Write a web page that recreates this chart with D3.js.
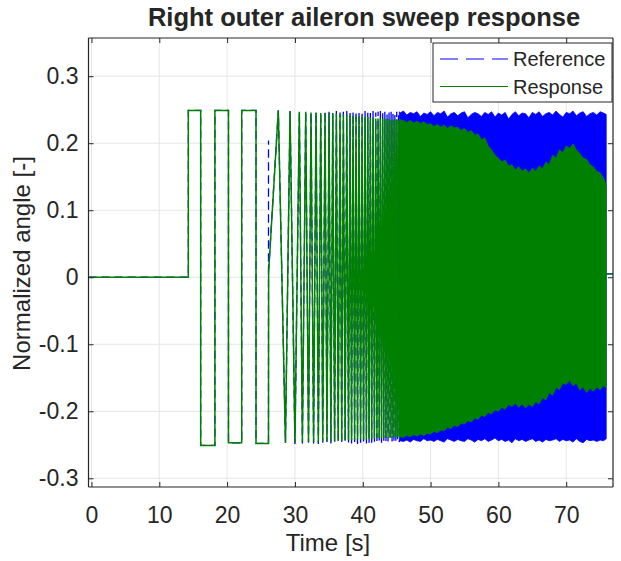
<!DOCTYPE html>
<html>
<head>
<meta charset="utf-8">
<script src="https://cdn.jsdelivr.net/npm/d3@7"></script>
<style>
  body { margin: 0; background: #fff; }
  text { font-family: "Liberation Sans", Arial, Helvetica, sans-serif; fill: #262626; }
</style>
</head>
<body>
<script>
// ticks
var xTicks = [0, 10, 20, 30, 40, 50, 60, 70];
var yTicks = [-0.3, -0.2, -0.1, 0, 0.1, 0.2, 0.3];

// square-wave part of the sweep: switching times [s] and level after each switch
var squareEdges  = [14.28, 16.1, 18.2, 20.2, 22.15, 24.26, 26.1];
var squareLevels = [0.249, -0.251, 0.249, -0.247, 0.249, -0.248];

// start of the sine part (reference spike, response ramp)
var refOnsetT  = [26.1, 26.1, 26.13];
var refOnsetV  = [0.204, 0.022, 0.012];
var respOnsetT = [26.12, 26.14];
var respOnsetV = [0.01, 0.01];

// sine sweep extrema (max, min, max, ...)
var sweepT = [27.55, 28.6, 29.28, 30.0, 30.65, 31.1, 31.59, 32.0, 32.37, 32.75,
              33.11, 33.45, 33.81, 34.1, 34.44, 34.72, 35.03, 35.3, 35.58, 35.85,
              36.11, 36.38, 36.65, 36.9, 37.14, 37.4, 37.64, 37.9, 38.13, 38.35,
              38.57, 38.8, 39.01, 39.23, 39.45, 39.68, 39.9, 40.12, 40.34, 40.54,
              40.74, 40.93, 41.12, 41.32, 41.52, 41.72, 41.92, 42.09, 42.26, 42.43,
              42.6, 42.77, 42.94, 43.1, 43.26, 43.42, 43.58, 43.73, 43.88, 44.03,
              44.18, 44.32, 44.46, 44.6, 44.74, 44.88, 45.01, 45.14, 45.27, 45.4];
var sweepRef = [0.249, -0.247, 0.248, -0.249, 0.247, -0.248, 0.248, -0.247, 0.246, -0.248,
                0.247, -0.249, 0.246, -0.247, 0.248, -0.246, 0.247, -0.248, 0.245, -0.247,
                0.248, -0.246, 0.246, -0.249, 0.247, -0.245, 0.248, -0.247, 0.245, -0.248,
                0.247, -0.246, 0.248, -0.249, 0.246, -0.247, 0.247, -0.245, 0.248, -0.248,
                0.246, -0.247, 0.245, -0.249, 0.248, -0.246, 0.246, -0.248, 0.247, -0.245,
                0.248, -0.247, 0.245, -0.244, 0.247, -0.246, 0.243, -0.245, 0.246, -0.243,
                0.247, -0.245, 0.244, -0.246, 0.242, -0.244, 0.247, -0.243, 0.245, -0.246];
var sweepResp = [0.249, -0.247, 0.248, -0.247, 0.247, -0.246, 0.247, -0.246, 0.246, -0.246,
                 0.246, -0.246, 0.245, -0.245, 0.245, -0.245, 0.245, -0.245, 0.244, -0.245,
                 0.244, -0.244, 0.243, -0.244, 0.243, -0.244, 0.242, -0.243, 0.242, -0.243,
                 0.241, -0.243, 0.241, -0.242, 0.240, -0.242, 0.240, -0.242, 0.239, -0.242,
                 0.239, -0.241, 0.238, -0.241, 0.238, -0.241, 0.237, -0.240, 0.237, -0.240,
                 0.237, -0.240, 0.237, -0.240, 0.236, -0.240, 0.236, -0.239, 0.236, -0.239,
                 0.235, -0.239, 0.235, -0.239, 0.235, -0.238, 0.235, -0.238, 0.234, -0.238];

// high-frequency part: envelopes of the dense band
var bandT = [45.4, 45.5, 46, 46.5, 47, 47.5, 48, 48.5, 49, 49.5,
             50, 50.5, 51, 51.5, 52, 52.5, 53, 53.5, 54, 54.5,
             55, 55.5, 56, 56.5, 57, 57.5, 58, 58.5, 59, 59.5,
             60, 60.5, 61, 61.5, 62, 62.5, 63, 63.5, 64, 64.5,
             65, 65.5, 66, 66.5, 67, 67.5, 68, 68.5, 69, 69.5,
             70, 70.5, 71, 71.5, 72, 72.5, 73, 73.5, 74, 74.5,
             75, 75.5, 75.9];
var refTop = [0.247, 0.245, 0.248, 0.242, 0.246, 0.244, 0.247, 0.240, 0.245, 0.243,
              0.247, 0.241, 0.246, 0.244, 0.248, 0.239, 0.244, 0.246, 0.241, 0.245,
              0.247, 0.238, 0.243, 0.246, 0.244, 0.240, 0.246, 0.243, 0.247, 0.239,
              0.245, 0.242, 0.246, 0.236, 0.243, 0.247, 0.241, 0.245, 0.244, 0.238,
              0.246, 0.243, 0.247, 0.240, 0.244, 0.246, 0.242, 0.248, 0.243, 0.239,
              0.246, 0.244, 0.248, 0.241, 0.245, 0.247, 0.240, 0.244, 0.246, 0.242,
              0.247, 0.245, 0.243];
var refBottom = [-0.246, -0.244, -0.245, -0.243, -0.246, -0.242, -0.244, -0.245, -0.241, -0.244,
                 -0.243, -0.245, -0.242, -0.244, -0.246, -0.241, -0.243, -0.245, -0.242, -0.244,
                 -0.245, -0.241, -0.243, -0.246, -0.242, -0.244, -0.241, -0.245, -0.243, -0.240,
                 -0.244, -0.242, -0.245, -0.243, -0.247, -0.241, -0.244, -0.242, -0.245, -0.243,
                 -0.241, -0.245, -0.243, -0.246, -0.242, -0.244, -0.243, -0.241, -0.245, -0.242,
                 -0.244, -0.243, -0.246, -0.241, -0.245, -0.247, -0.242, -0.244, -0.243, -0.245,
                 -0.243, -0.244, -0.241];
var respTop = [0.236, 0.235, 0.234, 0.231, 0.234, 0.230, 0.233, 0.229, 0.232, 0.228,
               0.229, 0.225, 0.228, 0.224, 0.227, 0.222, 0.226, 0.223, 0.224, 0.219,
               0.222, 0.216, 0.219, 0.212, 0.214, 0.205, 0.208, 0.196, 0.190, 0.182,
               0.178, 0.172, 0.175, 0.166, 0.168, 0.160, 0.165, 0.158, 0.162, 0.155,
               0.163, 0.158, 0.166, 0.162, 0.172, 0.168, 0.182, 0.178, 0.190, 0.186,
               0.196, 0.192, 0.199, 0.190, 0.185, 0.178, 0.176, 0.168, 0.165, 0.158,
               0.156, 0.148, 0.138];
var respBottom = [-0.240, -0.238, -0.239, -0.236, -0.238, -0.235, -0.237, -0.234, -0.236, -0.233,
                  -0.234, -0.230, -0.232, -0.228, -0.229, -0.224, -0.226, -0.221, -0.223, -0.218,
                  -0.219, -0.214, -0.216, -0.210, -0.212, -0.206, -0.208, -0.202, -0.204, -0.198,
                  -0.200, -0.194, -0.197, -0.190, -0.193, -0.188, -0.194, -0.189, -0.195, -0.190,
                  -0.193, -0.186, -0.189, -0.180, -0.183, -0.172, -0.176, -0.164, -0.168, -0.158,
                  -0.160, -0.154, -0.162, -0.158, -0.168, -0.164, -0.172, -0.166, -0.170, -0.164,
                  -0.168, -0.162, -0.165];

// after the sweep
var tailT = [75.92, 76.9];
var tailV = [0.005, 0.005];

var vis = {
  width: 621,
  height: 561,
  left: 88.5,
  right: 613,
  top: 38,
  bottom: 487,
  blue: "#0000ff",
  green: "#008000",
  axis: "#262626",
  grid: "#e6e6e6"
};

var x = d3.scaleLinear().domain([-0.44, 76.9]).range([vis.left, vis.right]);
var y = d3.scaleLinear().domain([-0.313, 0.357]).range([vis.bottom, vis.top]);

var svg = d3.select("body").append("svg")
  .attr("width", vis.width)
  .attr("height", vis.height);

svg.append("rect").attr("width", vis.width).attr("height", vis.height).attr("fill", "#fff");

// grid
svg.append("g").selectAll("line").data(xTicks).enter().append("line")
  .attr("x1", function(d) { return x(d); }).attr("x2", function(d) { return x(d); })
  .attr("y1", vis.top).attr("y2", vis.bottom)
  .attr("stroke", vis.grid).attr("stroke-width", 1);
svg.append("g").selectAll("line").data(yTicks).enter().append("line")
  .attr("y1", function(d) { return y(d); }).attr("y2", function(d) { return y(d); })
  .attr("x1", vis.left).attr("x2", vis.right)
  .attr("stroke", vis.grid).attr("stroke-width", 1);

// build the two time series as [t, v] points
function squarePart(startLevel) {
  var pts = [[x.domain()[0], 0]];
  var level = startLevel;
  squareEdges.forEach(function(t, i) {
    pts.push([t, level]);
    if (i < squareLevels.length) {
      level = squareLevels[i];
      pts.push([t, level]);
    }
  });
  return pts;
}

var refPts = squarePart(0);
refOnsetT.forEach(function(t, i) { refPts.push([t, refOnsetV[i]]); });
sweepT.forEach(function(t, i) { refPts.push([t, sweepRef[i]]); });

var respPts = squarePart(0);
respOnsetT.forEach(function(t, i) { respPts.push([t, respOnsetV[i]]); });
sweepT.forEach(function(t, i) { respPts.push([t, sweepResp[i]]); });

var tailPts = tailT.map(function(t, i) { return [t, tailV[i]]; });

var line = d3.line()
  .x(function(d) { return x(d[0]); })
  .y(function(d) { return y(d[1]); });

var band = d3.area()
  .x(function(d) { return x(d.t); })
  .y0(function(d) { return y(d.lo); })
  .y1(function(d) { return y(d.hi); });

var refBand = bandT.map(function(t, i) { return { t: t, lo: refBottom[i], hi: refTop[i] }; });
var respBand = bandT.map(function(t, i) { return { t: t, lo: respBottom[i], hi: respTop[i] }; });

var plot = svg.append("g");

// reference (blue, dashed)
plot.append("path").datum(refPts)
  .attr("d", line).attr("fill", "none")
  .attr("stroke", vis.blue).attr("stroke-width", 1.3)
  .attr("stroke-dasharray", "8,5");
plot.append("path").datum(refBand)
  .attr("d", band).attr("fill", vis.blue)
  .attr("stroke", vis.blue).attr("stroke-width", 0.8);
plot.append("path").datum(tailPts)
  .attr("d", line).attr("fill", "none")
  .attr("stroke", vis.blue).attr("stroke-width", 1.3);

// response (green)
plot.append("path").datum(respPts)
  .attr("d", line).attr("fill", "none")
  .attr("stroke", vis.green).attr("stroke-width", 1.5)
  .attr("stroke-linejoin", "miter").attr("stroke-miterlimit", 2);
plot.append("path").datum(respBand)
  .attr("d", band).attr("fill", vis.green)
  .attr("stroke", vis.green).attr("stroke-width", 0.8);
plot.append("path").datum(tailPts)
  .attr("d", line).attr("fill", "none")
  .attr("stroke", vis.green).attr("stroke-width", 1.1);

// axes with inward ticks on all four sides
function yFmt(d) {
  return d === 0 ? "0" : d3.format(".1f")(d).replace("\u2212", "-");
}
var axB = svg.append("g").attr("transform", "translate(0," + vis.bottom + ")")
  .call(d3.axisBottom(x).tickValues(xTicks).tickSize(-5).tickPadding(20).tickFormat(d3.format("d")));
var axT = svg.append("g").attr("transform", "translate(0," + vis.top + ")")
  .call(d3.axisTop(x).tickValues(xTicks).tickSize(-5).tickFormat(""));
var axL = svg.append("g").attr("transform", "translate(" + vis.left + ",0)")
  .call(d3.axisLeft(y).tickValues(yTicks).tickSize(-5).tickPadding(10).tickFormat(yFmt));
var axR = svg.append("g").attr("transform", "translate(" + vis.right + ",0)")
  .call(d3.axisRight(y).tickValues(yTicks).tickSize(-5).tickFormat(""));

[axB, axT, axL, axR].forEach(function(a) {
  a.selectAll("path.domain").attr("stroke", vis.axis).attr("stroke-width", 1.2);
  a.selectAll(".tick line").attr("stroke", vis.axis).attr("stroke-width", 1);
  a.selectAll(".tick text")
    .attr("font-family", "'Liberation Sans', Arial, sans-serif")
    .attr("font-size", 23).attr("fill", vis.axis);
});
axB.select(".domain").attr("d", "M" + vis.left + ",0H" + vis.right);
axT.select(".domain").attr("d", "M" + vis.left + ",0H" + vis.right);
axL.select(".domain").attr("d", "M0," + vis.top + "V" + vis.bottom);
axR.select(".domain").attr("d", "M0," + vis.top + "V" + vis.bottom);

// labels
svg.append("text")
  .attr("x", 364).attr("y", 26)
  .attr("text-anchor", "middle").attr("font-size", 25.5).attr("font-weight", "bold")
  .attr("fill", "#000")
  .text("Right outer aileron sweep response");

svg.append("text")
  .attr("x", 328).attr("y", 551)
  .attr("text-anchor", "middle").attr("font-size", 24)
  .text("Time [s]");

svg.append("text")
  .attr("transform", "translate(30," + ((vis.top + vis.bottom) / 2 + 1) + ") rotate(-90)")
  .attr("text-anchor", "middle").attr("font-size", 24)
  .text("Normalized angle [-]");

// legend
var leg = svg.append("g");
leg.append("rect")
  .attr("x", 433).attr("y", 43).attr("width", 179).attr("height", 59)
  .attr("fill", "#fff").attr("stroke", vis.axis).attr("stroke-width", 1);
var legItems = [
  { name: "Reference", color: vis.blue, dash: "18,8" },
  { name: "Response", color: vis.green, dash: null }
];
legItems.forEach(function(d, i) {
  var yy = 59 + i * 27.5;
  leg.append("line")
    .attr("x1", 440).attr("x2", 508).attr("y1", yy).attr("y2", yy)
    .attr("stroke", d.color).attr("stroke-width", 1.2)
    .attr("stroke-dasharray", d.dash);
  leg.append("text")
    .attr("x", 513).attr("y", yy + 7)
    .attr("font-size", 20)
    .text(d.name);
});
</script>
</body>
</html>
